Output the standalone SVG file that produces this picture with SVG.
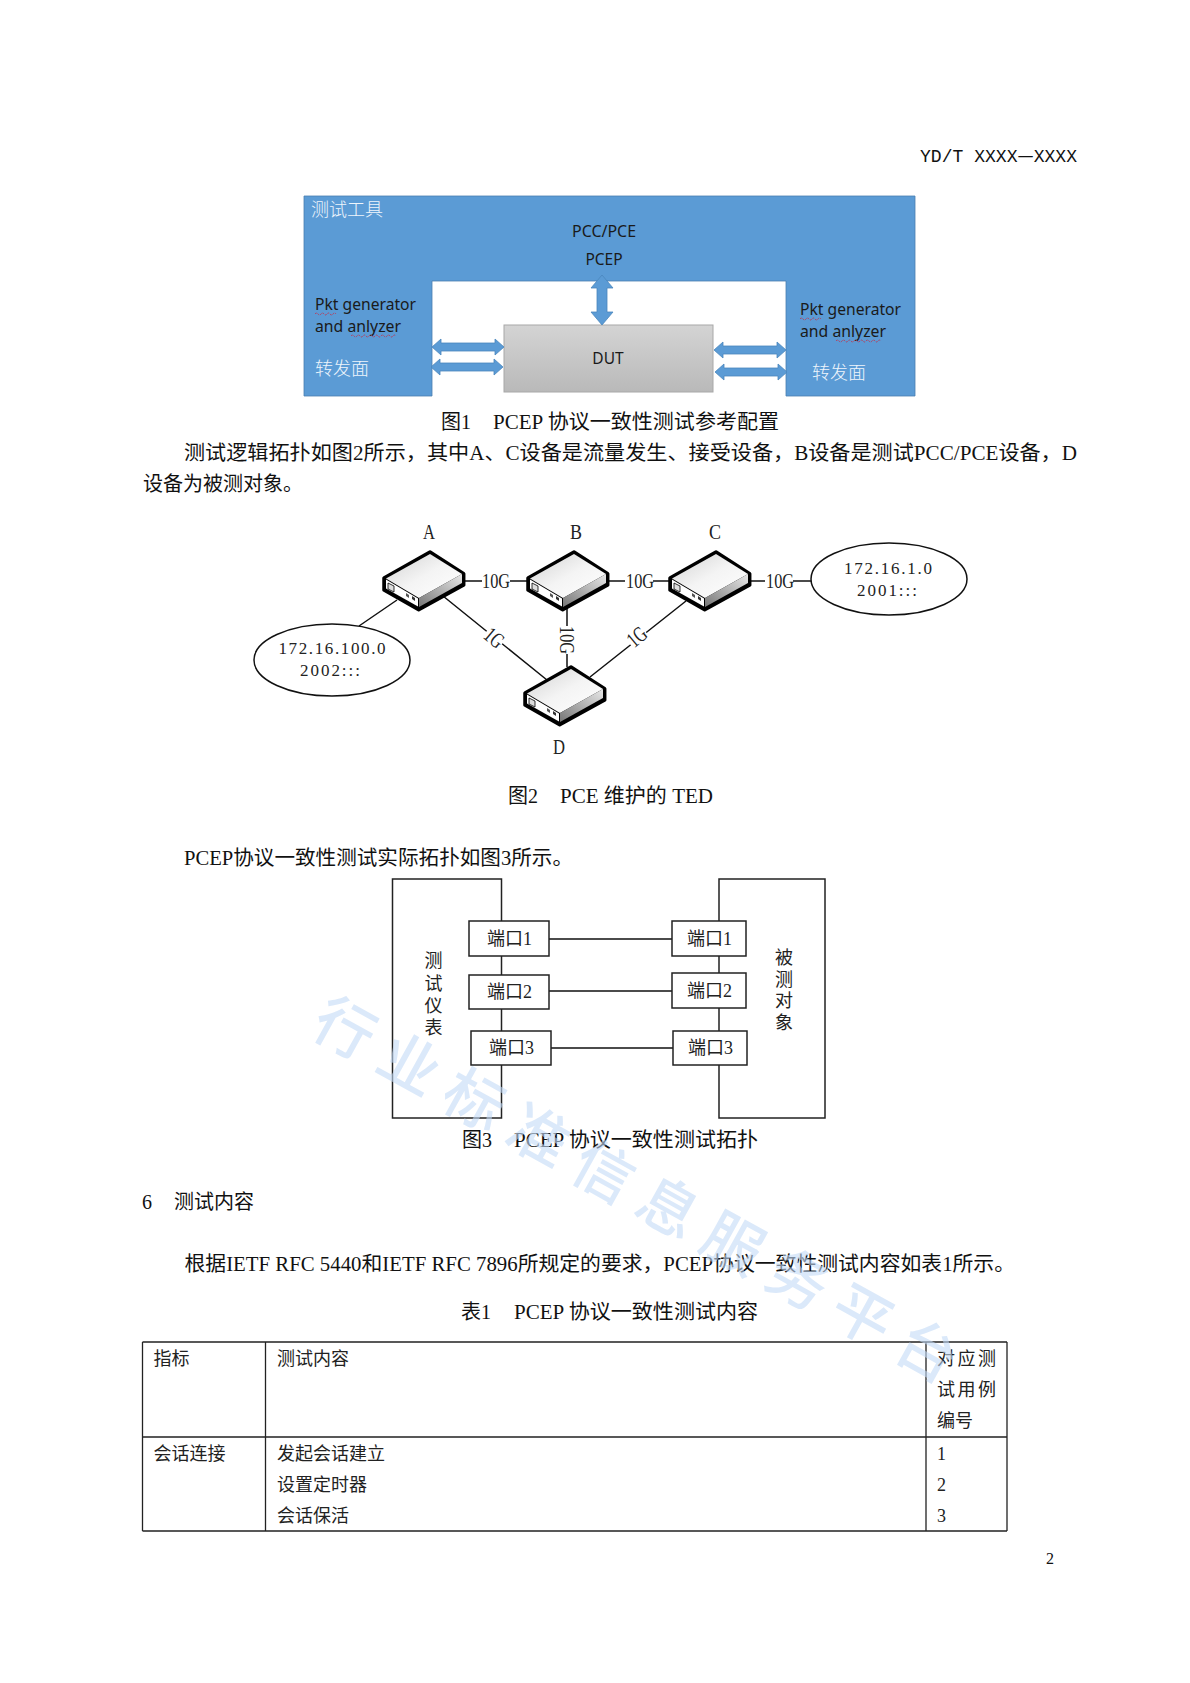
<svg xmlns="http://www.w3.org/2000/svg" xmlns:xlink="http://www.w3.org/1999/xlink" width="1190" height="1683" viewBox="0 0 1190 1683">
<style>
text{font-family:"Liberation Serif","Noto Sans CJK SC",serif;fill:#111}
.body{font-size:20px}
.cap{font-size:20px}
.mono{font-family:"Liberation Mono","Noto Sans CJK SC",monospace;font-size:18px}
.sans{font-family:"Noto Sans","Noto Sans CJK SC",sans-serif;font-size:15.5px;fill:#1a1a1a}
.wh{font-family:"Noto Sans CJK SC",sans-serif;font-size:18px;fill:#eef5fc;font-weight:300}
.net{font-size:22px;text-anchor:middle;fill:#222}
.ip{font-size:17px;text-anchor:middle;fill:#222}
.port{font-size:18px;text-anchor:middle;fill:#222}
.v{font-size:18px;text-anchor:middle;fill:#222}
.tb{font-size:18px;fill:#222}
.line{stroke:#111;stroke-width:1.5;fill:none}
.box{fill:#fff;stroke:#222;stroke-width:1.5}
.arrow{fill:#5b9bd5;stroke:#4a86bd;stroke-width:.8}
.sq{fill:none;stroke:#b5405e;stroke-width:1;stroke-dasharray:2 1}
.wm{font-family:"Noto Sans CJK SC",sans-serif;font-size:60px;fill:#c4dbf7;font-weight:500;text-anchor:middle}
</style>
<defs>
<linearGradient id="gTop" x1="0" y1="0" x2="1" y2="1"><stop offset="0" stop-color="#d2d2d2"/><stop offset=".5" stop-color="#f4f4f4"/><stop offset="1" stop-color="#fff"/></linearGradient>
<linearGradient id="gSide" x1="0" y1="1" x2="1" y2="0"><stop offset="0" stop-color="#777"/><stop offset="1" stop-color="#e8e8e8"/></linearGradient>
<linearGradient id="gDut" x1="0" y1="0" x2="0" y2="1"><stop offset="0" stop-color="#d4d4d4"/><stop offset="1" stop-color="#b9b9b9"/></linearGradient>
<path id="harrow" class="arrow" d="M-36,0L-27,-8V-4H27V-8L36,0L27,8V4H-27V8Z"/>
<g id="router">
<path d="M-46,26L0,0L33.7,21.7V33L-11.3,57.7L-46,38Z" fill="#000" stroke="#000" stroke-width="3.5" stroke-linejoin="round"/>
<path d="M-44,26.5L0,2L32,22L-11,46Z" fill="url(#gTop)"/>
<path d="M-11,46L32,22V31L-11,55Z" fill="url(#gSide)"/>
<path d="M-44,27.5L-12,46.5V54.5L-44,36.5Z" fill="#fff"/>
<path d="M-42,31L-36,34V40L-42,37Z" fill="#ddd" stroke="#000" stroke-width=".8"/>
<path d="M-24,41L-21,43V46L-24,44Z" fill="#555"/>
<path d="M-18,44L-15,46V49L-18,47Z" fill="#333"/>
</g>
</defs>
<rect width="1190" height="1683" fill="#fff"/>

<text class="mono" x="920" y="162" textLength="157" lengthAdjust="spacingAndGlyphs">YD/T XXXX<tspan font-family="Noto Sans CJK SC">—</tspan>XXXX</text>

<g id="fig1">
<g id="tool">
<path d="M304,196H915V396H786V281H432V396H304Z" fill="#5b9bd5" stroke="#4a7fb0" stroke-width=".8"/>
<text class="wh" x="311" y="216">测试工具</text>
<text class="sans" x="604" y="237" text-anchor="middle" textLength="64" lengthAdjust="spacingAndGlyphs">PCC/PCE</text>
<text class="sans" x="604" y="265" text-anchor="middle">PCEP</text>
<text class="sans" x="315" y="310" textLength="101" lengthAdjust="spacingAndGlyphs">Pkt generator</text>
<text class="sans" x="315" y="332" textLength="86" lengthAdjust="spacingAndGlyphs">and anlyzer</text>
<text class="wh" x="315" y="375">转发面</text>
<text class="sans" x="800" y="315" textLength="101" lengthAdjust="spacingAndGlyphs">Pkt generator</text>
<text class="sans" x="800" y="337" textLength="86" lengthAdjust="spacingAndGlyphs">and anlyzer</text>
<text class="wh" x="812" y="379">转发面</text>
<path class="sq" d="M315,314q1.500,-2 3,0t3,0t3,0t3,0t3,0t3,0t3,0"/>
<path class="sq" d="M351,336q1.500,-2 3,0t3,0t3,0t3,0t3,0t3,0t3,0t3,0t3,0t3,0t3,0t3,0t3,0t3,0t3,0"/>
<path class="sq" d="M800,319q1.500,-2 3,0t3,0t3,0t3,0t3,0t3,0t3,0"/>
<path class="sq" d="M836,341q1.500,-2 3,0t3,0t3,0t3,0t3,0t3,0t3,0t3,0t3,0t3,0t3,0t3,0t3,0t3,0t3,0"/>
</g>
<g id="dut">
<rect x="504" y="325" width="209" height="67" fill="url(#gDut)" stroke="#a8a8a8" stroke-width="1"/>
<text class="sans" x="608" y="364" text-anchor="middle">DUT</text>
</g>
<g id="fig1-connectors">
<path class="arrow" d="M602,275L613,288H607V312H613L602,325L591,312H597V288H591Z"/>
<use xlink:href="#harrow" href="#harrow" x="468" y="347"/>
<use xlink:href="#harrow" href="#harrow" x="467" y="367"/>
<use xlink:href="#harrow" href="#harrow" x="750" y="350"/>
<use xlink:href="#harrow" href="#harrow" x="751" y="372"/>
</g>
<text class="cap" x="441" y="429">图1</text>
<text class="cap" x="493" y="429" textLength="286" lengthAdjust="spacingAndGlyphs">PCEP 协议一致性测试参考配置</text>
</g>

<text class="body" x="184" y="460" textLength="893" lengthAdjust="spacingAndGlyphs">测试逻辑拓扑如图2所示，其中A、C设备是流量发生、接受设备，B设备是测试PCC/PCE设备，D</text>
<text class="body" x="143" y="491">设备为被测对象。</text>

<g id="fig2">
<g id="fig2-connectors">
<path class="line" d="M463,581H528M608,581H669M750,581H811M397,600L359,626M443,596L547,680M567,608V667M686,601L590,677"/>
<g>
<rect x="482" y="570" width="28" height="22" fill="#fff"/><text class="net" x="496" y="587.500" textLength="28" lengthAdjust="spacingAndGlyphs">10G</text>
<rect x="625" y="570" width="28" height="22" fill="#fff"/><text class="net" x="640" y="587.500" textLength="28" lengthAdjust="spacingAndGlyphs">10G</text>
<rect x="765" y="570" width="28" height="22" fill="#fff"/><text class="net" x="780" y="587.500" textLength="28" lengthAdjust="spacingAndGlyphs">10G</text>
<g transform="translate(567,640) rotate(90)"><rect x="-14" y="-9" width="28" height="18" fill="#fff"/><text class="net" x="0" y="7" textLength="28" lengthAdjust="spacingAndGlyphs">10G</text></g>
<g transform="translate(494,638) rotate(40)"><rect x="-10" y="-9" width="20" height="18" fill="#fff"/><text class="net" x="0" y="7" textLength="19" lengthAdjust="spacingAndGlyphs">1G</text></g>
<g transform="translate(637,637) rotate(-40)"><rect x="-10" y="-9" width="20" height="18" fill="#fff"/><text class="net" x="0" y="7" textLength="19" lengthAdjust="spacingAndGlyphs">1G</text></g>
</g>
</g>
<g id="node-a"><use xlink:href="#router" href="#router" x="430" y="552"/><text class="net" x="429" y="539" textLength="12" lengthAdjust="spacingAndGlyphs">A</text></g>
<g id="node-b"><use xlink:href="#router" href="#router" x="574" y="552"/><text class="net" x="576" y="539" textLength="12" lengthAdjust="spacingAndGlyphs">B</text></g>
<g id="node-c"><use xlink:href="#router" href="#router" x="716" y="552"/><text class="net" x="715" y="539" textLength="12" lengthAdjust="spacingAndGlyphs">C</text></g>
<g id="node-d"><use xlink:href="#router" href="#router" x="571" y="667"/><text class="net" x="559" y="754" textLength="12" lengthAdjust="spacingAndGlyphs">D</text></g>
<g id="net-left">
<ellipse cx="332" cy="660" rx="78" ry="36" fill="#fff" stroke="#111" stroke-width="1.500"/>
<text class="ip" x="332" y="654" textLength="107" lengthAdjust="spacing">172.16.100.0</text>
<text class="ip" x="330" y="676" textLength="60" lengthAdjust="spacing">2002:::</text>
</g>
<g id="net-right">
<ellipse cx="889" cy="579" rx="78" ry="36" fill="#fff" stroke="#111" stroke-width="1.500"/>
<text class="ip" x="888" y="574" textLength="88" lengthAdjust="spacing">172.16.1.0</text>
<text class="ip" x="887" y="596" textLength="60" lengthAdjust="spacing">2001:::</text>
</g>
<text class="cap" x="508" y="803">图2</text>
<text class="cap" x="560" y="803" textLength="153" lengthAdjust="spacingAndGlyphs">PCE 维护的 TED</text>
</g>

<text class="body" x="184" y="865" textLength="389" lengthAdjust="spacingAndGlyphs">PCEP协议一致性测试实际拓扑如图3所示。</text>

<g id="fig3">
<g id="tester">
<rect x="392.500" y="879" width="109" height="239" fill="none" stroke="#222" stroke-width="1.500"/>
<text class="v" x="433.500" y="967">测</text><text class="v" x="433.500" y="990">试</text><text class="v" x="433.500" y="1012">仪</text><text class="v" x="433.500" y="1034">表</text>
</g>
<g id="dut2">
<rect x="719" y="879" width="106" height="239" fill="none" stroke="#222" stroke-width="1.500"/>
<text class="v" x="784" y="964">被</text><text class="v" x="784" y="986">测</text><text class="v" x="784" y="1007">对</text><text class="v" x="784" y="1029">象</text>
</g>
<g id="fig3-connectors">
<path class="line" d="M549,939H672M549,991H672M551,1048H673"/>
</g>
<g id="port-l1"><rect class="box" x="469" y="921" width="80" height="35"/><text class="port" x="509.500" y="945" textLength="45" lengthAdjust="spacing">端口1</text></g>
<g id="port-l2"><rect class="box" x="469" y="975" width="80" height="34"/><text class="port" x="509.500" y="998" textLength="45" lengthAdjust="spacing">端口2</text></g>
<g id="port-l3"><rect class="box" x="471" y="1031" width="80" height="34"/><text class="port" x="511.500" y="1054" textLength="45" lengthAdjust="spacing">端口3</text></g>
<g id="port-r1"><rect class="box" x="672" y="921" width="74" height="35"/><text class="port" x="709.500" y="945" textLength="45" lengthAdjust="spacing">端口1</text></g>
<g id="port-r2"><rect class="box" x="672" y="973" width="74" height="35"/><text class="port" x="709.500" y="997" textLength="45" lengthAdjust="spacing">端口2</text></g>
<g id="port-r3"><rect class="box" x="673" y="1031" width="74" height="34"/><text class="port" x="710.500" y="1054" textLength="45" lengthAdjust="spacing">端口3</text></g>
<text class="cap" x="462" y="1147">图3</text>
<text class="cap" x="514" y="1147" textLength="244" lengthAdjust="spacingAndGlyphs">PCEP 协议一致性测试拓扑</text>
</g>

<text class="body" x="142" y="1209">6</text>
<text class="body" x="174" y="1209" font-size="20.600">测试内容</text>
<text class="body" x="184.500" y="1271" textLength="830.500" lengthAdjust="spacingAndGlyphs">根据IETF RFC 5440和IETF RFC 7896所规定的要求，PCEP协议一致性测试内容如表1所示。</text>
<text class="cap" x="461" y="1319">表1</text>
<text class="cap" x="514" y="1319" textLength="244" lengthAdjust="spacingAndGlyphs">PCEP 协议一致性测试内容</text>

<g id="table">
<path d="M142.500,1342H1007M142.500,1437H1007M142.500,1531H1007M142.500,1342V1531M265.500,1342V1531M926,1342V1531M1007,1342V1531" fill="none" stroke="#222" stroke-width="1.300"/>
<text class="tb" x="153.500" y="1365">指标</text>
<text class="tb" x="277" y="1365">测试内容</text>
<text class="tb" x="937" y="1365" textLength="59" lengthAdjust="spacing">对应测</text>
<text class="tb" x="937" y="1396" textLength="59" lengthAdjust="spacing">试用例</text>
<text class="tb" x="937" y="1427">编号</text>
<text class="tb" x="153.500" y="1460">会话连接</text>
<text class="tb" x="277" y="1460">发起会话建立</text>
<text class="tb" x="277" y="1491">设置定时器</text>
<text class="tb" x="277" y="1522">会话保活</text>
<text class="tb" x="937" y="1460">1</text>
<text class="tb" x="937" y="1491">2</text>
<text class="tb" x="937" y="1522">3</text>
</g>
<text x="1046" y="1564" font-size="16">2</text>

<g id="watermark" transform="translate(345,1028) rotate(29)" opacity=".6">
<text class="wm" x="0" y="22">行</text><text class="wm" x="74" y="22">业</text><text class="wm" x="148" y="22">标</text><text class="wm" x="222" y="22">准</text><text class="wm" x="296" y="22">信</text><text class="wm" x="370" y="22">息</text><text class="wm" x="444" y="22">服</text><text class="wm" x="518" y="22">务</text><text class="wm" x="592" y="22">平</text><text class="wm" x="666" y="22">台</text>
</g>
</svg>
